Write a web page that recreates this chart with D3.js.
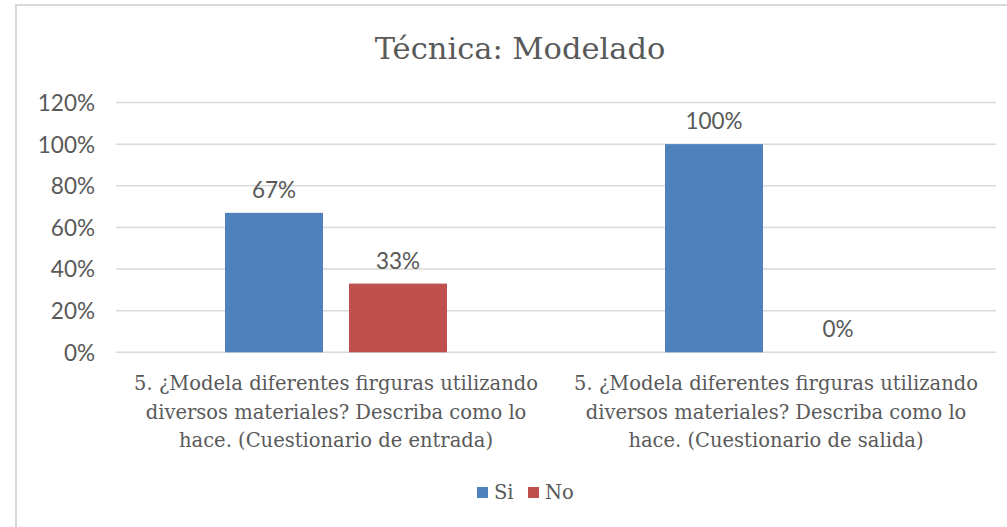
<!DOCTYPE html>
<html>
<head>
<meta charset="utf-8">
<script src="https://cdn.jsdelivr.net/npm/d3@7"></script>
<style>
  body { margin: 0; background: #fff; }
  svg text { fill: #595959; }
  .serif { font-family: "DejaVu Serif", "Liberation Serif", serif; }
  .num { font-family: Lato, "Open Sans", sans-serif; }
</style>
</head>
<body>
<div id="vis"></div>
<script>
const TITLE = "Técnica: Modelado";
const SERIES = ["Si", "No"];
const CATEGORIES = [
  ["5. ¿Modela diferentes firguras utilizando", "diversos materiales? Describa como lo", "hace. (Cuestionario de entrada)"],
  ["5. ¿Modela diferentes firguras utilizando", "diversos materiales? Describa como lo", "hace. (Cuestionario de salida)"]
];
const SI_VALUES = [0.67, 1.00];
const NO_VALUES = [0.33, 0.00];
const Y_TICKS = [0, 0.2, 0.4, 0.6, 0.8, 1.0, 1.2];
const COLORS = ["#4F81BD", "#C0504D"];

const WIDTH = 1007;
const HEIGHT = 527;
const PLOT_LEFT = 116;
const PLOT_RIGHT = 996;
const PLOT_TOP = 102.5;
const PLOT_BOTTOM = 352.3;

const svg = d3.select("#vis")
              .append("svg")
                .attr("width", WIDTH)
                .attr("height", HEIGHT);

// chart frame
svg.append("path")
   .attr("d", `M16,${HEIGHT} L16,5 L${WIDTH},5`)
   .attr("fill", "none")
   .attr("stroke", "#D9D9D9")
   .attr("stroke-width", 2);

svg.append("text")
   .attr("class", "serif")
   .attr("x", 520)
   .attr("y", 59)
   .attr("text-anchor", "middle")
   .attr("font-size", 30.5)
   .text(TITLE);

const yScale = d3.scaleLinear([0, 1.2], [PLOT_BOTTOM, PLOT_TOP]);

const xScale = d3.scaleBand()
                 .domain(d3.range(CATEGORIES.length))
                 .range([PLOT_LEFT, PLOT_RIGHT]);

// bar width 98, gap 26 inside a 440px category
const innerScale = d3.scaleBand()
                     .domain(SERIES)
                     .range([0, xScale.bandwidth()])
                     .paddingInner(26 / 124)
                     .paddingOuter((xScale.bandwidth() / 124 - 2 + 26 / 124) / 2);

// gridlines
svg.append("g")
   .selectAll("line")
   .data(Y_TICKS)
   .enter()
   .append("line")
     .attr("x1", PLOT_LEFT)
     .attr("x2", PLOT_RIGHT)
     .attr("y1", d => yScale(d))
     .attr("y2", d => yScale(d))
     .attr("stroke", "#D9D9D9")
     .attr("stroke-width", 1.5);

// y axis labels
const yAxis = d3.axisLeft(yScale)
                .tickValues(Y_TICKS)
                .tickFormat(d3.format(".0%"))
                .tickSize(0)
                .tickPadding(0);

const yAxisG = svg.append("g")
                  .attr("transform", "translate(95, 0)")
                  .call(yAxis);
yAxisG.select(".domain").remove();
yAxisG.selectAll("text")
      .attr("class", "num")
      .attr("font-size", 22.5)
      .attr("dy", "0.35em");

const rows = CATEGORIES.map((c, i) => [
  { cat: i, s: "Si", v: SI_VALUES[i], color: COLORS[0] },
  { cat: i, s: "No", v: NO_VALUES[i], color: COLORS[1] }
]).flat();

svg.selectAll("rect.bar")
   .data(rows)
   .enter()
   .append("rect")
     .attr("class", "bar")
     .attr("x", d => xScale(d.cat) + innerScale(d.s))
     .attr("y", d => yScale(d.v))
     .attr("width", innerScale.bandwidth())
     .attr("height", d => PLOT_BOTTOM - yScale(d.v))
     .attr("fill", d => d.color);

svg.selectAll("text.val")
   .data(rows)
   .enter()
   .append("text")
     .attr("class", "val num")
     .attr("x", d => xScale(d.cat) + innerScale(d.s) + innerScale.bandwidth() / 2)
     .attr("y", d => yScale(d.v) - 15)
     .attr("text-anchor", "middle")
     .attr("font-size", 22.5)
     .text(d => d3.format(".0%")(d.v));

// category labels
const catG = svg.selectAll("g.cat")
                .data(CATEGORIES)
                .enter()
                .append("g")
                  .attr("class", "cat")
                  .attr("transform", (d, i) => `translate(${xScale(i) + xScale.bandwidth() / 2}, 390)`);

catG.selectAll("text")
    .data(d => d)
    .enter()
    .append("text")
      .attr("class", "serif")
      .attr("y", (d, i) => i * 28.5)
      .attr("text-anchor", "middle")
      .attr("font-size", 19.5)
      .text(d => d);

// legend
const legendX = [477, 528];
const legend = svg.selectAll("g.legend")
                  .data(SERIES)
                  .enter()
                  .append("g")
                    .attr("class", "legend")
                    .attr("transform", (d, i) => `translate(${legendX[i]}, 487)`);

legend.append("rect")
      .attr("width", 11)
      .attr("height", 11)
      .attr("fill", (d, i) => COLORS[i]);

legend.append("text")
      .attr("class", "serif")
      .attr("x", 17)
      .attr("y", 12)
      .attr("font-size", 19.5)
      .text(d => d);
</script>
</body>
</html>
